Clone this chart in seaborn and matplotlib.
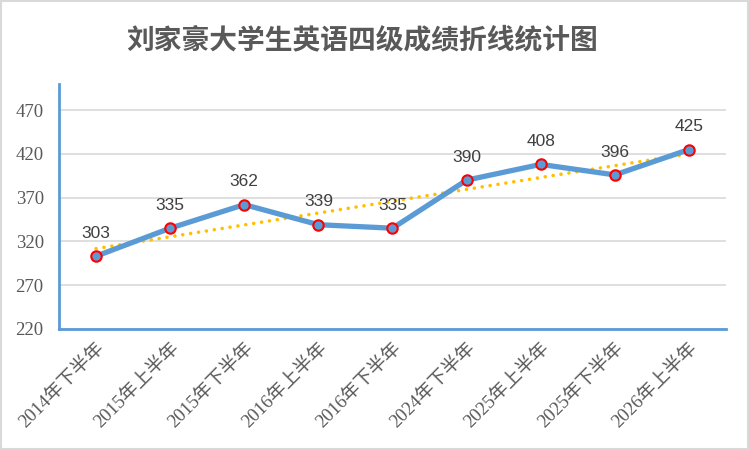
import numpy as np
import pandas as pd
import matplotlib
matplotlib.use("Agg")
import matplotlib.pyplot as plt
import seaborn as sns

title = "刘家豪大学生英语四级成绩折线统计图"
categories = ["2014年下半年", "2015年上半年", "2015年下半年", "2016年上半年", "2016年下半年",
              "2024年下半年", "2025年上半年", "2025年下半年", "2026年上半年"]
scores = [303, 335, 362, 339, 335, 390, 408, 396, 425]
yticks = [220, 270, 320, 370, 420, 470]

sns.set_theme(style="white")
plt.rcParams['font.family'] = ['Liberation Serif', 'Noto Sans CJK SC', 'DejaVu Sans']

df = pd.DataFrame({"idx": np.arange(len(categories)), "cat": categories, "score": scores})

fig = plt.figure(figsize=(7.49, 4.5), dpi=100)
ax = fig.add_axes([59/749, 1-328.7/450, (726-59)/749, (328.7-84)/450])

blue = "#5B9BD5"
# trend line
sns.regplot(data=df, x="idx", y="score", ax=ax, scatter=False, ci=None, truncate=True,
            line_kws=dict(color="#FFC000", lw=2.6, linestyle=(0, (0.01, 2.2)),
                          dash_capstyle="round", solid_capstyle="round", zorder=2))
# main line
sns.lineplot(data=df, x="idx", y="score", ax=ax, color=blue, lw=3.8, zorder=3,
             marker="o", markersize=7.5, markerfacecolor=blue, markeredgecolor="#FF0000",
             markeredgewidth=1.5)

for i, v in enumerate(scores):
    ax.annotate(str(v), (i, v), xytext=(0, 11), textcoords="offset points",
                ha="center", va="bottom", fontsize=12.5, color="#404040",
                family=['Liberation Sans', 'DejaVu Sans'], zorder=5)

ax.set_xlim(-0.5, len(categories) - 0.5)
ax.set_ylim(220, 500)
ax.set_yticks(yticks)
ax.set_yticklabels([str(t) for t in yticks], fontsize=13.5, color="#595959")
ax.set_xticks(np.arange(len(categories)))
ax.set_xticklabels(categories, rotation=45, ha="right", rotation_mode="anchor",
                   fontsize=13.5, color="#595959")
ax.tick_params(axis="y", length=0, pad=11)
ax.tick_params(axis="x", length=0, pad=8)
ax.set_xlabel("")
ax.set_ylabel("")
ax.yaxis.grid(True, color="#D9D9D9", lw=1.2)
ax.set_axisbelow(True)
for s in ["top", "right"]:
    ax.spines[s].set_visible(False)
for s in ["left", "bottom"]:
    ax.spines[s].set_color(blue)
    ax.spines[s].set_linewidth(2)

fig.text(0.5 - 12/749, 1 - 40/450, title, ha="center", va="center", fontsize=20,
         color="#595959", family=['Noto Sans CJK SC', 'DejaVu Sans'], fontweight="semibold")

border = plt.Rectangle((0.001, 0.002), 0.997, 0.995, transform=fig.transFigure,
                       fill=False, edgecolor="#D9D9D9", lw=1.5)
fig.patches.append(border)

fig.savefig("out.png", dpi=100)
